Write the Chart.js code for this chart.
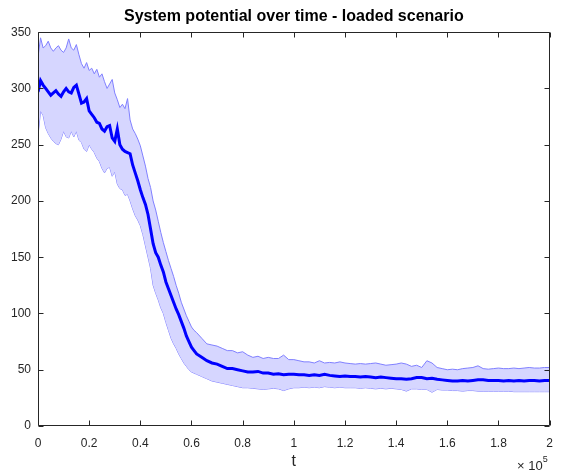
<!DOCTYPE html>
<html>
<head>
<meta charset="utf-8">
<script src="https://cdn.jsdelivr.net/npm/chart.js@4.4.1/dist/chart.umd.min.js"></script>
<style>
  body { margin: 0; background: #fff; }
  #chart { display: block; }
</style>
</head>
<body>
<canvas id="chart" width="563" height="472"></canvas>
<script>
// sample positions (x 10^5)
const tValues = [
  0, 0.01, 0.02, 0.03, 0.04, 0.05, 0.06, 0.07, 0.08, 0.09,
  0.10, 0.11, 0.12, 0.13, 0.14, 0.15, 0.16, 0.17, 0.18, 0.19,
  0.20, 0.21, 0.22, 0.23, 0.24, 0.25, 0.26, 0.27, 0.28, 0.29,
  0.30, 0.31, 0.32, 0.33, 0.34, 0.35, 0.36, 0.37, 0.38, 0.39,
  0.40, 0.41, 0.42, 0.43, 0.44, 0.45, 0.46, 0.47, 0.48, 0.49,
  0.50, 0.51, 0.52, 0.53, 0.54, 0.55, 0.56, 0.57, 0.58, 0.59,
  0.60, 0.61, 0.62,
  0.64, 0.66, 0.68, 0.70, 0.72, 0.74, 0.76, 0.78, 0.80, 0.82,
  0.84, 0.86, 0.88, 0.90, 0.92, 0.94, 0.96, 0.98, 1.00, 1.02,
  1.04, 1.06, 1.08, 1.10, 1.12, 1.14, 1.16, 1.18, 1.20, 1.22,
  1.24, 1.26, 1.28, 1.30, 1.32, 1.34, 1.36, 1.38, 1.40, 1.42,
  1.44, 1.46, 1.48, 1.50, 1.52, 1.54, 1.56, 1.58, 1.60, 1.62,
  1.64, 1.66, 1.68, 1.70, 1.72, 1.74, 1.76, 1.78, 1.80, 1.82,
  1.84, 1.86, 1.88, 1.90, 1.92, 1.94, 1.96, 1.98, 2.00
];

const meanValues = [
  297, 307, 303, 300, 297, 294, 296, 298, 295, 293,
  297, 300, 297, 296, 301, 303, 295, 287, 288, 291,
  280, 277, 274, 270, 269, 264, 262, 266, 267, 256,
  253, 264, 250, 246, 244, 243, 242, 232, 225, 218,
  210, 203, 197, 188, 175, 162, 154, 150, 143, 137,
  128, 122, 116, 110, 104, 99, 93, 87, 80, 75,
  70, 67, 64,
  61, 58, 56, 55, 53, 51, 51, 50, 49, 48,
  48, 48.5, 47, 47, 46, 46.5, 45.5, 46, 46, 45.5,
  45.5, 45, 45.5, 45, 46, 45, 44.5, 44, 44.5, 44,
  44, 43.5, 44, 43.5, 43, 43.5, 43, 42.5, 42, 42,
  41.5, 42, 43, 43, 42, 42.5, 41.5, 41, 40.5, 40,
  40, 40.5, 40, 40.5, 41, 41, 40.5, 40.5, 40.5, 40,
  40.5, 40, 40.5, 40, 40.5, 40.5, 40, 40.5, 40.5
];

const upperValues = [
  328, 345, 336, 338, 342, 336, 333, 336, 338, 334,
  332, 336, 344, 336, 334, 339, 330, 322, 318, 323,
  316, 318, 313, 317, 310, 313, 306, 300, 304, 308,
  296, 290, 283, 286, 282, 291, 272, 264, 260, 255,
  249, 240, 231, 220, 212, 200, 192, 182, 172, 163,
  155, 147, 140, 133, 125, 118, 110, 104, 98, 93,
  88, 85, 83,
  78, 73, 72, 71, 69, 67, 67, 65, 66, 63,
  61, 62, 60, 61, 60, 60, 63, 59, 59, 58,
  57, 57, 56, 58, 56, 56.5, 56, 57, 56, 55.5,
  55, 55.5, 55, 55.5, 56, 55, 54, 54.5, 55, 56,
  55, 53, 54, 52, 58, 56, 52, 51, 50, 50.5,
  50, 51, 51.5, 52, 53.5, 51, 50.5, 51, 51.5, 51,
  51, 51.5, 51, 51.5, 52, 51.5, 51.5, 52, 52
];

const lowerValues = [
  258, 280, 276, 265, 260, 256, 253, 251, 250, 255,
  262, 257, 256, 262, 257, 262, 254, 252, 246, 244,
  250, 246, 243, 238, 235, 229, 225, 229, 230, 222,
  226, 215, 211, 210, 205, 206, 200, 193, 187, 183,
  178, 170, 160, 150, 140, 125, 118, 112, 105, 100,
  92, 85, 78, 73, 69, 64, 60, 56, 53, 50,
  48, 47, 46,
  44, 42, 40, 39, 38, 37, 36, 35, 34, 34,
  33.5, 33, 32.5, 33, 33.5, 33, 31.5, 33, 34, 34,
  34.5, 34, 34.5, 34, 35, 34.5, 34, 34.5, 34, 34,
  34, 33.5, 34, 33.5, 33, 33.5, 33, 33.5, 33, 32.5,
  31, 33, 33, 32.5, 32.5, 30, 32.5, 32, 32, 31.5,
  31.5, 31, 31.5, 31.5, 31, 31, 31, 31, 31, 31,
  31, 30.5, 30.5, 30.5, 30.5, 30.5, 30.5, 30.5, 30.5
];

const yTicks = [0, 50, 100, 150, 200, 250, 300, 350];

const toPoints = vals => vals.map((v, i) => ({ x: tValues[i], y: v }));

const axisColor = '#262626';
const fontFamily = "'Liberation Sans', Arial, Helvetica, sans-serif";

// MATLAB-like box with inward ticks and the x10^5 exponent
const matlabBox = {
  id: 'matlabBox',
  afterDraw(chart) {
    const { ctx, chartArea: a, scales: { x, y } } = chart;
    const L = Math.round(a.left) + 0.5, R = Math.round(a.right) - 0.5;
    const T = Math.round(a.top) + 0.5, B = Math.round(a.bottom) - 0.5;
    const len = 5;
    ctx.save();
    ctx.strokeStyle = axisColor;
    ctx.lineWidth = 1;
    ctx.beginPath();
    ctx.rect(L, T, R - L, B - T);
    x.ticks.forEach(t => {
      const px = Math.round(x.getPixelForValue(t.value)) + 0.5;
      ctx.moveTo(px, B); ctx.lineTo(px, B - len);
      ctx.moveTo(px, T); ctx.lineTo(px, T + len);
    });
    y.ticks.forEach(t => {
      const py = Math.round(y.getPixelForValue(t.value)) + 0.5;
      ctx.moveTo(L, py); ctx.lineTo(L + len, py);
      ctx.moveTo(R, py); ctx.lineTo(R - len, py);
    });
    ctx.stroke();

    ctx.fillStyle = axisColor;
    ctx.textBaseline = 'alphabetic';
    ctx.textAlign = 'right';
    ctx.font = '9px ' + fontFamily;
    ctx.fillText('5', a.right - 2, 462);
    const w5 = ctx.measureText('5').width;
    ctx.font = '13px ' + fontFamily;
    ctx.fillText('\u00d7 10', a.right - 2 - w5, 470);
    ctx.restore();
  }
};

new Chart(document.getElementById('chart'), {
  type: 'line',
  data: {
    datasets: [
      {
        label: 'mean',
        data: toPoints(meanValues),
        borderColor: '#0000ff',
        borderWidth: 3,
        pointRadius: 0,
        fill: false
      },
      {
        label: 'upper',
        data: toPoints(upperValues),
        borderColor: '#8080ff',
        borderWidth: 1,
        pointRadius: 0,
        backgroundColor: '#d6d6ff',
        fill: '+1'
      },
      {
        label: 'lower',
        data: toPoints(lowerValues),
        borderColor: '#8080ff',
        borderWidth: 1,
        pointRadius: 0,
        fill: false
      }
    ]
  },
  options: {
    responsive: false,
    animation: false,
    layout: { padding: { left: 0, right: 5, top: 0, bottom: 0 } },
    plugins: {
      legend: { display: false },
      tooltip: { enabled: false },
      title: {
        display: true,
        text: 'System potential over time - loaded scenario',
        fullSize: false,
        color: '#000',
        font: { family: fontFamily, size: 16, weight: 'bold' },
        padding: { top: 7, bottom: 6 }
      }
    },
    scales: {
      x: {
        type: 'linear',
        min: 0,
        max: 2,
        grid: { display: false, drawTicks: false },
        border: { display: false },
        ticks: {
          stepSize: 0.2,
          padding: 10,
          maxRotation: 0,
          autoSkip: false,
          color: axisColor,
          font: { family: fontFamily, size: 12 },
          callback: v => String(Number(v.toFixed(1)))
        },
        title: {
          display: true,
          text: 't',
          color: axisColor,
          font: { family: fontFamily, size: 16 },
          padding: { top: 0, bottom: 1 }
        },
        afterFit: s => { s.height = 46; }
      },
      y: {
        min: 0,
        max: 350,
        grid: { display: false, drawTicks: false },
        border: { display: false },
        afterBuildTicks: s => { s.ticks = yTicks.map(v => ({ value: v })); },
        ticks: {
          padding: 7,
          color: axisColor,
          font: { family: fontFamily, size: 12 }
        },
        afterFit: s => { s.width = 38; }
      }
    }
  },
  plugins: [matlabBox]
});
</script>
</body>
</html>
